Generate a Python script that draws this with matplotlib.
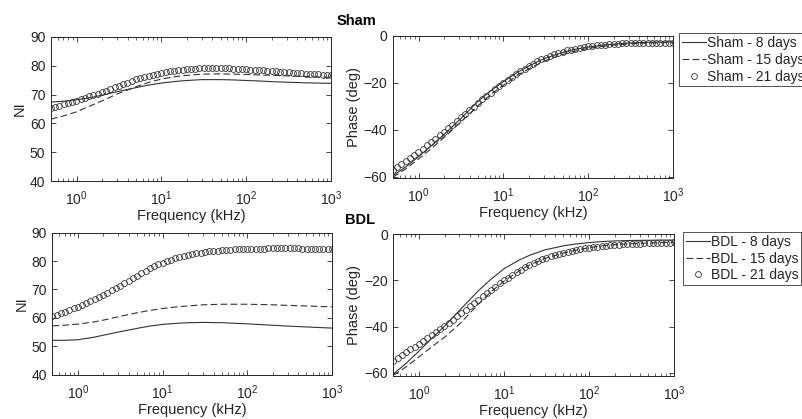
import numpy as np
import matplotlib
matplotlib.use("Agg")
import matplotlib.pyplot as plt

plt.rcParams['font.family'] = ['Liberation Sans', 'DejaVu Sans']

# frequency sweep (kHz), 20 points per decade for the marker series
freq_pts = np.logspace(np.log10(0.5), 3, 67)
# coarser grid for the line series
freq_line = [0.5, 0.7, 1, 1.5, 2, 3, 5, 7, 10, 15, 20, 30, 50, 70, 100,
             150, 200, 300, 500, 700, 1000]

# Sham, NI
sham8_ni = [67.4, 67.7, 68.2, 69.0, 69.8, 71.0, 72.4, 73.3, 74.0, 74.6, 74.9,
            75.2, 75.2, 75.1, 74.9, 74.7, 74.5, 74.3, 74.1, 74.0, 73.9]
sham15_ni = [61.5, 62.6, 64.0, 66.3, 67.8, 70.2, 72.7, 74.2, 75.4, 76.3, 76.7,
             77.1, 77.2, 77.1, 77.0, 76.8, 76.7, 76.5, 76.3, 76.1, 76.0]
sham21_ni = [65.4, 65.8, 66.2, 66.6, 67.0, 67.4, 67.9, 68.4, 68.9, 69.4, 69.8,
             70.3, 70.8, 71.4, 71.9, 72.5, 73.0, 73.6, 74.2, 74.7, 75.3, 75.7,
             76.1, 76.5, 76.9, 77.3, 77.6, 77.9, 78.1, 78.3, 78.5, 78.7, 78.8,
             78.9, 79.0, 79.1, 79.1, 79.2, 79.2, 79.2, 79.2, 79.1, 79.1, 79.0,
             78.9, 78.9, 78.8, 78.7, 78.6, 78.5, 78.4, 78.3, 78.2, 78.1, 77.9,
             77.8, 77.7, 77.6, 77.5, 77.4, 77.3, 77.2, 77.1, 77.0, 76.9, 76.9,
             76.8]

# Sham, phase
sham8_ph = [-59.6, -56.0, -51.5, -46.0, -42.0, -36.0, -28.0, -23.5, -19.5, -15.3,
            -12.8, -9.7, -7.0, -5.7, -4.7, -3.9, -3.5, -3.0, -2.7, -2.6, -2.5]
sham15_ph = [-60.3, -56.8, -52.5, -47.3, -43.3, -37.5, -29.8, -25.2, -21.0, -16.6,
             -14.0, -10.8, -7.9, -6.5, -5.3, -4.4, -3.9, -3.4, -3.0, -2.9, -2.8]
sham21_ph = [-57.0, -55.8, -54.6, -53.3, -52.0, -50.8, -49.5, -48.1, -46.7, -45.3,
             -43.8, -42.3, -40.8, -39.3, -37.8, -36.3, -34.7, -33.2, -31.6, -30.1,
             -28.6, -27.1, -25.6, -24.2, -22.8, -21.4, -19.9, -18.6, -17.4, -16.2,
             -15.0, -13.9, -12.8, -11.8, -10.9, -10.0, -9.2, -8.5, -7.8, -7.2,
             -6.7, -6.2, -5.8, -5.4, -5.0, -4.7, -4.5, -4.2, -4.0, -3.8, -3.7,
             -3.5, -3.4, -3.3, -3.2, -3.1, -3.1, -3.0, -3.0, -2.9, -2.9, -2.9,
             -2.8, -2.8, -2.8, -2.8, -2.8]

# BDL, NI
bdl8_ni = [52.1, 52.1, 52.3, 53.1, 53.9, 55.0, 56.3, 57.1, 57.7, 58.1, 58.3,
           58.4, 58.3, 58.1, 57.9, 57.6, 57.4, 57.1, 56.8, 56.6, 56.4]
bdl15_ni = [57.2, 57.4, 57.8, 58.5, 59.2, 60.4, 61.8, 62.6, 63.3, 63.9, 64.2,
            64.6, 64.8, 64.8, 64.8, 64.7, 64.6, 64.4, 64.2, 64.0, 63.9]
bdl21_ni = [60.5, 61.0, 61.6, 62.2, 62.8, 63.4, 64.0, 64.6, 65.3, 66.0, 66.7,
            67.4, 68.1, 68.9, 69.7, 70.5, 71.3, 72.2, 73.1, 74.0, 74.9, 75.8,
            76.6, 77.4, 78.1, 78.8, 79.4, 80.0, 80.5, 81.0, 81.4, 81.8, 82.1,
            82.4, 82.7, 83.0, 83.2, 83.4, 83.6, 83.7, 83.8, 83.9, 84.0, 84.1,
            84.2, 84.2, 84.3, 84.3, 84.4, 84.4, 84.4, 84.5, 84.5, 84.5, 84.5,
            84.5, 84.5, 84.5, 84.5, 84.4, 84.4, 84.4, 84.4, 84.4, 84.3, 84.3,
            84.3]

# BDL, phase
bdl8_ph = [-60.5, -56.0, -50.6, -44.2, -39.8, -33.0, -24.5, -19.6, -15.0, -11.3,
           -9.2, -6.9, -5.1, -4.3, -3.7, -3.2, -3.0, -2.8, -2.7, -2.6, -2.6]
bdl15_ph = [-61.0, -57.5, -53.1, -48.0, -44.6, -38.9, -30.3, -25.0, -20.4, -16.0,
            -13.4, -10.6, -8.2, -7.0, -5.9, -5.0, -4.6, -4.2, -3.9, -3.7, -3.6]
bdl21_ph = [-54.8, -53.6, -52.3, -51.1, -49.8, -48.6, -47.4, -46.1, -44.8, -43.5,
            -42.2, -40.9, -39.6, -38.3, -37.0, -35.6, -34.2, -32.8, -31.3, -29.8,
            -28.3, -26.9, -25.5, -24.1, -22.7, -21.3, -20.0, -18.8, -17.6, -16.5,
            -15.4, -14.4, -13.4, -12.5, -11.7, -10.9, -10.2, -9.6, -9.0, -8.5,
            -8.0, -7.6, -7.2, -6.8, -6.5, -6.2, -5.9, -5.7, -5.5, -5.3, -5.1,
            -4.9, -4.7, -4.6, -4.5, -4.4, -4.3, -4.2, -4.1, -4.0, -3.9, -3.9,
            -3.8, -3.8, -3.7, -3.7, -3.6]

ink = '#333333'
axcol = '#262626'

fig = plt.figure(figsize=(8.03, 4.19), dpi=100)

ax_tl = fig.add_axes([0.0635, 0.568, 0.3487, 0.3437])
ax_tr = fig.add_axes([0.4894, 0.5752, 0.3487, 0.3390])
ax_bl = fig.add_axes([0.0652, 0.1058, 0.3482, 0.3389])
ax_br = fig.add_axes([0.4898, 0.1033, 0.3496, 0.3382])


def style(ax, ylim, yticks, ylabel):
    ax.set_xscale('log')
    ax.set_xlim(0.5, 1000)
    ax.set_ylim(*ylim)
    ax.set_yticks(yticks)
    ax.set_xticks([1, 10, 100, 1000])
    ax.tick_params(which='both', direction='in', top=True, right=True,
                   colors=axcol, labelsize=10, pad=4)
    ax.tick_params(which='major', length=3.5, width=0.6)
    ax.tick_params(which='minor', length=2, width=0.5)
    ax.tick_params(axis='x', pad=6)
    for s in ax.spines.values():
        s.set_color(axcol)
        s.set_linewidth(0.7)
    ax.set_xlabel('Frequency (kHz)', fontsize=10.5, color=axcol, labelpad=1)
    ax.set_ylabel(ylabel, fontsize=10.5, color=axcol, labelpad=2)


def draw(ax, l8, l15, p21, name):
    ax.plot(freq_line, l8, '-', color=ink, lw=0.8, label=name + ' - 8 days')
    ax.plot(freq_line, l15, '--', color=ink, lw=0.8, dashes=(6, 3),
            label=name + ' - 15 days')
    ax.plot(freq_pts, p21, 'o', mfc='none', mec=ink, mew=0.6, ms=4.2,
            label=name + ' - 21 days')


draw(ax_tl, sham8_ni, sham15_ni, sham21_ni, 'Sham')
draw(ax_tr, sham8_ph, sham15_ph, sham21_ph, 'Sham')
draw(ax_bl, bdl8_ni, bdl15_ni, bdl21_ni, 'BDL')
draw(ax_br, bdl8_ph, bdl15_ph, bdl21_ph, 'BDL')

style(ax_tl, (40, 90), [40, 50, 60, 70, 80, 90], 'NI')
style(ax_bl, (40, 90), [40, 50, 60, 70, 80, 90], 'NI')
style(ax_tr, (-60.6, 0), [-60, -40, -20, 0], 'Phase (deg)')
style(ax_br, (-61.2, 0), [-60, -40, -20, 0], 'Phase (deg)')

# legends sit outside the right-hand axes
for ax, anchor in [(ax_tr, (0.8456, 0.9204)), (ax_br, (0.8506, 0.4463))]:
    leg = ax.legend(loc='upper left', bbox_to_anchor=anchor,
                    bbox_transform=fig.transFigure, fontsize=10,
                    frameon=True, fancybox=False, handlelength=1.75,
                    handletextpad=0.05, borderpad=0.2, labelspacing=0.2,
                    borderaxespad=0, labelcolor=axcol)
    leg.get_frame().set_edgecolor(axcol)
    leg.get_frame().set_linewidth(0.7)

fig.text(0.444, 0.951, 'Sham', ha='center', va='center', fontsize=10.5,
         fontweight='bold', color='black')
fig.text(0.448, 0.475, 'BDL', ha='center', va='center', fontsize=10.5,
         fontweight='bold', color='black')

fig.savefig('out.png', dpi=100)
